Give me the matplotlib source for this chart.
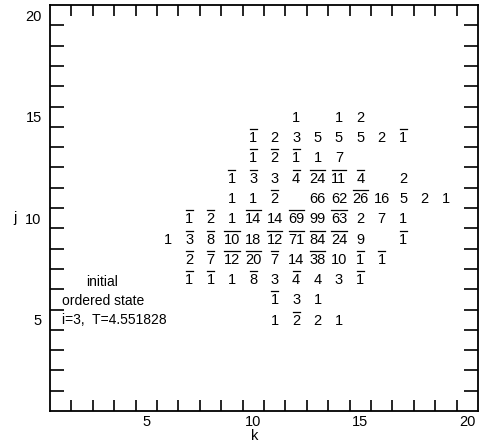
import matplotlib
matplotlib.use("Agg")
import matplotlib.pyplot as plt
from matplotlib.ticker import FixedLocator
from matplotlib.lines import Line2D

plt.rcParams['font.family'] = ['Liberation Sans', 'DejaVu Sans']

# Rows of the (k, j) table: for each j, the k positions and the values
# (negative values are printed with an overbar)
j_rows = [15, 14, 13, 12, 11, 10, 9, 8, 7, 6, 5]
k_j15 = [12, 14, 15]
v_j15 = [1, 1, 2]
k_j14 = [10, 11, 12, 13, 14, 15, 16, 17]
v_j14 = [-1, 2, 3, 5, 5, 5, 2, -1]
k_j13 = [10, 11, 12, 13, 14]
v_j13 = [-1, -2, -1, 1, 7]
k_j12 = [9, 10, 11, 12, 13, 14, 15, 17]
v_j12 = [-1, -3, 3, -4, -24, -11, -4, 2]
k_j11 = [9, 10, 11, 13, 14, 15, 16, 17, 18, 19]
v_j11 = [1, 1, -2, 66, 62, -26, 16, 5, 2, 1]
k_j10 = [7, 8, 9, 10, 11, 12, 13, 14, 15, 16, 17]
v_j10 = [-1, -2, 1, -14, 14, -69, 99, -63, 2, 7, 1]
k_j9 = [6, 7, 8, 9, 10, 11, 12, 13, 14, 15, 17]
v_j9 = [1, -3, -8, -10, 18, -12, -71, -84, -24, 9, -1]
k_j8 = [7, 8, 9, 10, 11, 12, 13, 14, 15, 16]
v_j8 = [-2, -7, -12, -20, -7, 14, -38, 10, -1, -1]
k_j7 = [7, 8, 9, 10, 11, 12, 13, 14, 15]
v_j7 = [-1, -1, 1, -8, 3, -4, 4, 3, -1]
k_j6 = [11, 12, 13]
v_j6 = [-1, 3, 1]
k_j5 = [11, 12, 13, 14]
v_j5 = [1, -2, 2, 1]

row_k = [k_j15, k_j14, k_j13, k_j12, k_j11, k_j10, k_j9, k_j8, k_j7, k_j6, k_j5]
row_v = [v_j15, v_j14, v_j13, v_j12, v_j11, v_j10, v_j9, v_j8, v_j7, v_j6, v_j5]

tick_labels = [5, 10, 15, 20]
note_lines = ["initial", "ordered state", "i=3,  T=4.551828"]

fig = plt.figure(figsize=(4.79, 4.48), dpi=100)
ax = fig.add_axes([0.1044, 0.0826, 0.8936, 0.9062])
ax.set_xlim(0.5, 20.5)
ax.set_ylim(0.5, 20.5)

neg_texts = []
for j, ks, vs in zip(j_rows, row_k, row_v):
    for k, v in zip(ks, vs):
        t = ax.text(k, j - 0.25, str(abs(v)), ha='center', va='baseline',
                    fontsize=10.5, color='black')
        if v < 0:
            neg_texts.append(t)

# annotation
ax.text(2.2, 6.85, note_lines[0], ha='left', va='center', fontsize=10)
ax.text(1.05, 5.92, note_lines[1], ha='left', va='center', fontsize=10)
ax.text(1.05, 5.0, note_lines[2], ha='left', va='center', fontsize=10)

# ticks: labels at cell centres, tick marks at cell boundaries
ax.xaxis.set_major_locator(FixedLocator(tick_labels))
ax.yaxis.set_major_locator(FixedLocator(tick_labels))
ax.set_xticklabels([str(t) for t in tick_labels])
ax.set_yticklabels([str(t) for t in tick_labels])
bounds = [b + 0.5 for b in range(1, 20)]
ax.xaxis.set_minor_locator(FixedLocator(bounds))
ax.yaxis.set_minor_locator(FixedLocator(bounds))
ax.tick_params(which='major', length=0, labelsize=10.5)
ax.tick_params(axis='x', which='major', pad=3)
ax.tick_params(axis='y', which='major', pad=6)
ax.tick_params(which='minor', direction='in', top=True, right=True, width=1.2)
ax.tick_params(axis='y', which='minor', length=10)
ax.tick_params(axis='x', which='minor', length=8)

for sp in ax.spines.values():
    sp.set_linewidth(1.3)

ax.set_xlabel('k', fontsize=10.5)
ax.set_ylabel('j', fontsize=10.5, rotation=0, va='center')
ax.xaxis.set_label_coords(0.479, -0.045)
ax.yaxis.set_label_coords(-0.082, 0.475)

# overbars for negative entries, sized from each rendered number
fig.canvas.draw()
renderer = fig.canvas.get_renderer()
inv = fig.transFigure.inverted()
for t in neg_texts:
    bb = t.get_window_extent(renderer)
    x0, y0 = inv.transform((bb.x0 + 0.5, bb.y1 + 2.0))
    x1, _ = inv.transform((bb.x1 - 0.5, bb.y1 + 2.0))
    fig.add_artist(Line2D([x0, x1], [y0, y0], transform=fig.transFigure,
                          color='black', linewidth=0.9))

fig.savefig('out.png', dpi=100)
